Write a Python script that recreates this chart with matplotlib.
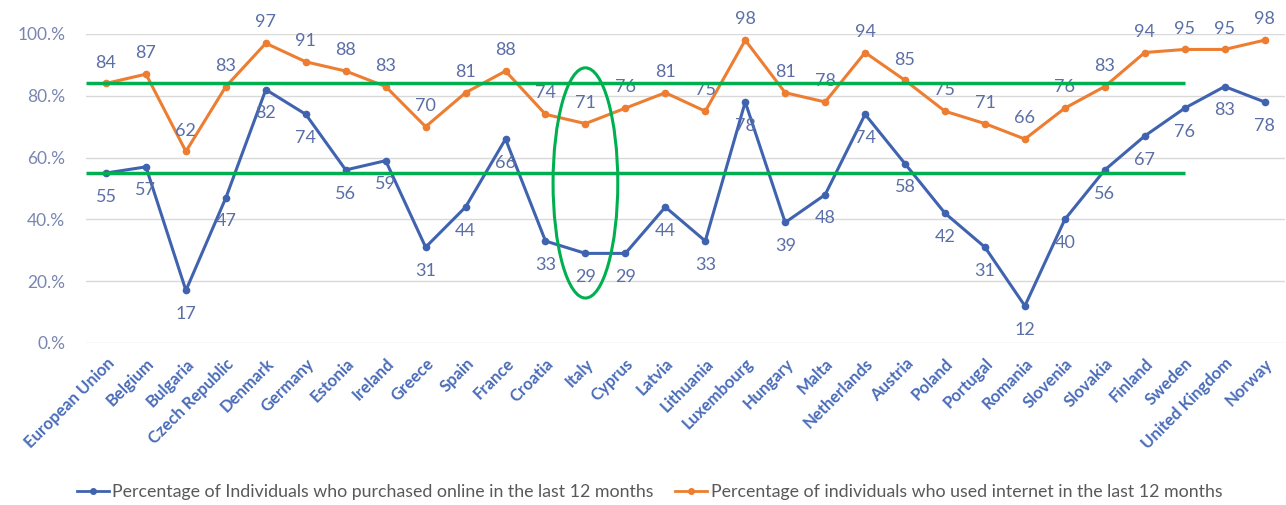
import matplotlib.pyplot as plt
from matplotlib.patches import Ellipse
from matplotlib.lines import Line2D

plt.rcParams['font.family'] = ['Lato', 'DejaVu Sans']

countries = ["European Union", "Belgium", "Bulgaria", "Czech Republic", "Denmark",
             "Germany", "Estonia", "Ireland", "Greece", "Spain", "France", "Croatia",
             "Italy", "Cyprus", "Latvia", "Lithuania", "Luxembourg", "Hungary", "Malta",
             "Netherlands", "Austria", "Poland", "Portugal", "Romania", "Slovenia",
             "Slovakia", "Finland", "Sweden", "United Kingdom", "Norway"]
purchased = [55, 57, 17, 47, 82, 74, 56, 59, 31, 44, 66, 33, 29, 29, 44, 33, 78, 39,
             48, 74, 58, 42, 31, 12, 40, 56, 67, 76, 83, 78]
used_internet = [84, 87, 62, 83, 97, 91, 88, 83, 70, 81, 88, 74, 71, 76, 81, 75, 98,
                 81, 78, 94, 85, 75, 71, 66, 76, 83, 94, 95, 95, 98]
yticks = [0, 20, 40, 60, 80, 100]
highlight = "Italy"

blue = "#4063b0"
orange = "#ed7d31"
green = "#00b050"
label_col = "#5b6fa6"

fig = plt.figure(figsize=(12.86, 5.05), dpi=100)
ax = fig.add_axes([0.0669, 0.3208, 0.932, 0.6119])

x = list(range(len(countries)))
ax.plot(x, purchased, color=blue, lw=2.2, marker='o', ms=4.5, zorder=3)
ax.plot(x, used_internet, color=orange, lw=2.2, marker='o', ms=4.5, zorder=3)

for xi, v in zip(x, purchased):
    ax.annotate(str(v), (xi, v), xytext=(0, -17), textcoords='offset points',
                ha='center', va='center', fontsize=13, color=label_col,
                annotation_clip=False, zorder=4)
for xi, v in zip(x, used_internet):
    ax.annotate(str(v), (xi, v), xytext=(0, 15), textcoords='offset points',
                ha='center', va='center', fontsize=13, color=label_col,
                annotation_clip=False, zorder=4)

# reference lines at EU level
ax.hlines([used_internet[0], purchased[0]], -0.5, 27, colors=green, lw=2.5,
          zorder=5, clip_on=False)
xi = countries.index(highlight)
ax.add_patch(Ellipse((xi, 51.8), 1.62, 74.5, fill=False, edgecolor=green, lw=2.2,
                     zorder=5, clip_on=False))

ax.set_xlim(-0.5, 29.5)
ax.set_ylim(0, 100)
ax.set_yticks(yticks)
ax.set_yticklabels([f"{t}.%" for t in yticks], fontsize=12.5, color="#7a86b0")
ax.set_xticks(x)
ax.set_xticklabels(countries, rotation=45, ha='right', rotation_mode='anchor',
                   fontsize=12, fontweight='bold', color="#4a6cb8")
ax.tick_params(length=0, pad=9)
ax.tick_params(axis='y', pad=15)
ax.grid(axis='y', color='#d9d9d9', lw=1)
ax.set_axisbelow(True)
for s in ax.spines.values():
    s.set_visible(False)

handles = [Line2D([], [], color=blue, lw=2, marker='o', ms=4),
           Line2D([], [], color=orange, lw=2, marker='o', ms=4)]
fig.legend(handles,
           ["Percentage of Individuals who purchased online in the last 12 months",
            "Percentage of individuals who used internet in the last 12 months"],
           loc='center', bbox_to_anchor=(0.505, 0.026), ncol=2, frameon=False,
           fontsize=12.8, labelcolor="#595959", handlelength=1.8, handletextpad=0.2,
           columnspacing=1.2)

fig.savefig("out.png", dpi=100)
